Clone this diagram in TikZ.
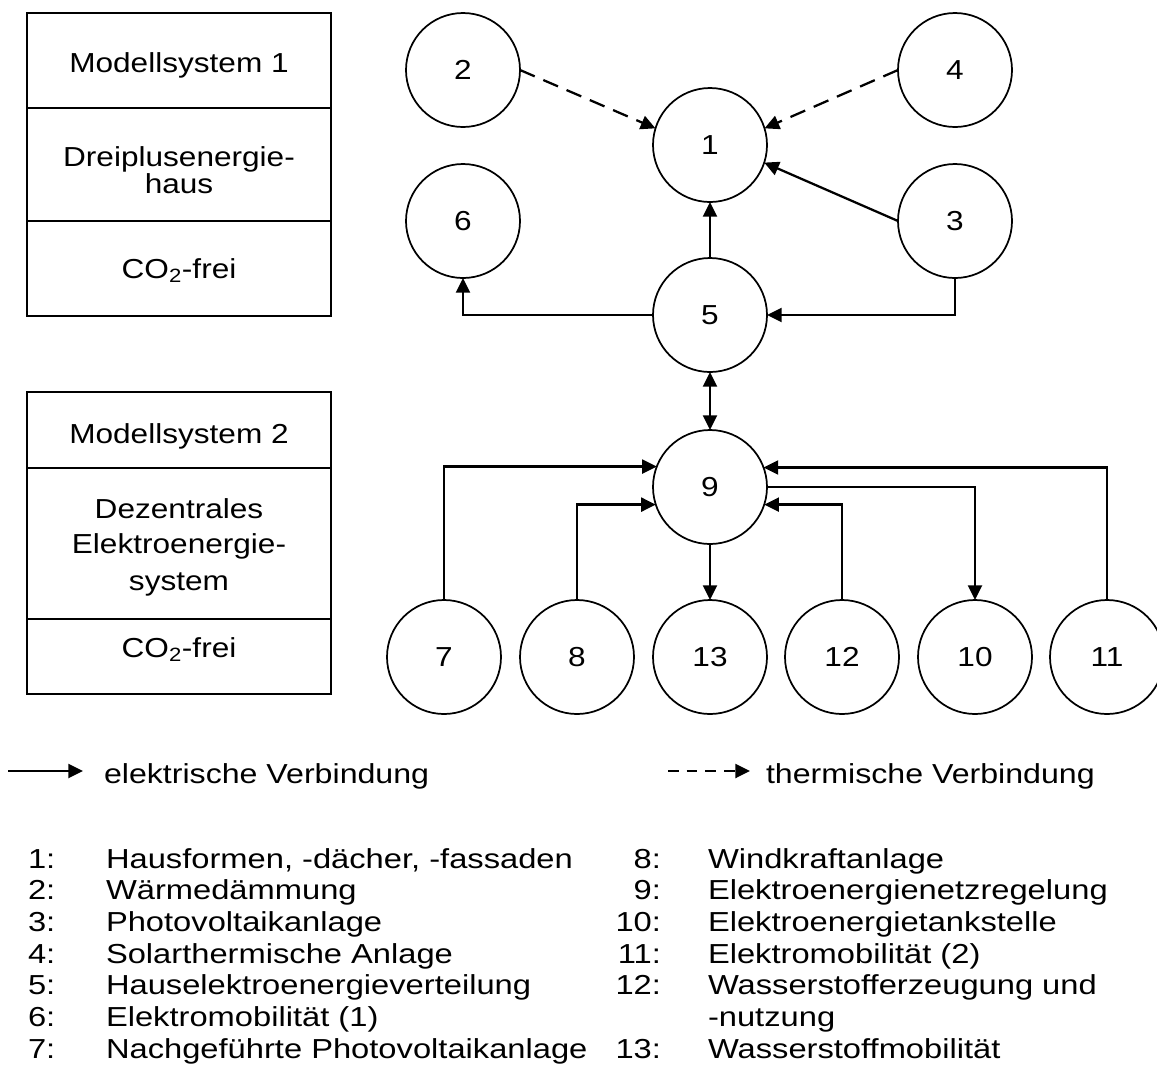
\documentclass[tikz,border=0pt]{standalone}
\usepackage{fontspec}
\setmainfont{Liberation Sans}[FakeStretch=1.15]
\newfontfamily\keyfont{Liberation Sans}[FakeStretch=1.19]
\newfontfamily\legfont{Liberation Sans}[FakeStretch=1.17]
\usetikzlibrary{arrows.meta}

\begin{document}
\begin{tikzpicture}[x=0.75pt,y=-0.75pt,
  txt/.style={font=\fontsize{20.6pt}{24pt}\selectfont, inner sep=0pt, outer sep=0pt},
  num/.style={txt, circle, draw, line width=1.3pt, minimum size=85.5pt},
  box/.style={draw, line width=1.2pt},
  tip/.style={-{Triangle[length=11pt,width=10.5pt]}},
  elec/.style={tip, line width=1.7pt},
  therm/.style={tip, line width=1.7pt, dash pattern=on 12pt off 7pt},
  lbl/.style={txt, anchor=base},
  lw/.style={txt, anchor=base west, font=\fontsize{20.6pt}{24pt}\keyfont},
  le/.style={txt, anchor=base east, font=\fontsize{20.6pt}{24pt}\keyfont},
  leg/.style={txt, anchor=base west, font=\fontsize{20.6pt}{24pt}\legfont}]

\useasboundingbox (0,0) rectangle (1157,1083);

% ---- Modellsystem 1 ----
\draw[box] (27,13) rectangle (331,316);
\draw[box] (27,108) -- (331,108);
\draw[box] (27,221) -- (331,221);
\node[lbl] (m1a) at (179,72) {Modellsystem 1};
\node[lbl] (m1b) at (179,166) {Dreiplusenergie-};
\node[lbl] (m1c) at (179,193) {haus};
\node[lbl] (m1d) at (179,278) {CO\textsubscript{2}-frei};

% ---- Modellsystem 2 ----
\draw[box] (27,392) rectangle (331,694);
\draw[box] (27,468) -- (331,468);
\draw[box] (27,619) -- (331,619);
\node[lbl] (m2a) at (179,443) {Modellsystem 2};
\node[lbl] (m2b) at (179,518) {Dezentrales};
\node[lbl] (m2c) at (179,553) {Elektroenergie-};
\node[lbl] (m2d) at (179,590) {system};
\node[lbl] (m2e) at (179,657) {CO\textsubscript{2}-frei};

% ---- components ----
\node[num] (n1)  at (710,145) {1};
\node[num] (n2)  at (463,70)  {2};
\node[num] (n3)  at (955,221) {3};
\node[num] (n4)  at (955,70)  {4};
\node[num] (n5)  at (710,315) {5};
\node[num] (n6)  at (463,221) {6};
\node[num] (n9)  at (710,487) {9};
\node[num] (n7)  at (444,657) {7};
\node[num] (n8)  at (577,657) {8};
\node[num] (n13) at (710,657) {13};
\node[num] (n12) at (842,657) {12};
\node[num] (n10) at (975,657) {10};
\node[num] (n11) at (1107,657) {11};

% ---- thermal links ----
\draw[therm] (n2.east) -- (n1.163);
\draw[therm] (n4.west) -- (n1.17);

% ---- electrical links ----
\draw[elec] (n3.west) -- (n1.-18);
\draw[elec] (n5.north) -- (n1.south);
\draw[elec] (n5.west) -| (n6.south);
\draw[elec] (n3.south) |- (n5.east);
\draw[elec, {Triangle[length=11pt,width=10.5pt]}-{Triangle[length=11pt,width=10.5pt]}] (n5.south) -- (n9.north);
\draw[elec] (n7.north) |- (n9.159.5);
\draw[elec] (n8.north) |- (n9.198.4);
\draw[elec] (n12.north) |- (n9.-18.4);
\draw[elec] (n11.north) |- (n9.20.5);
\draw[elec] (n9.south) -- (n13.north);
\draw[elec] (n9.east) -| (n10.north);

% ---- legend ----
\coordinate (la) at (8,771);
\coordinate (lb) at (83,771);
\draw[elec] (la) -- (lb);
\node[leg] (lt1) at (104,783) {elektrische Verbindung};
\coordinate (lc) at (668,771);
\coordinate (ld) at (750,771);
\draw[elec, dash pattern=on 8pt off 6pt] (lc) -- (ld);
\node[leg] (lt2) at (766,783) {thermische Verbindung};

% ---- key, left column ----
\foreach \k/\t [count=\i from 0] in {1/{Hausformen, -dächer, -fassaden},
    2/Wärmedämmung, 3/Photovoltaikanlage, 4/Solarthermische Anlage,
    5/Hauselektroenergieverteilung, 6/Elektromobilität (1),
    7/Nachgeführte Photovoltaikanlage}{
  \node[lw] (ka\k) at (28,868+31.7*\i) {\k:};
  \node[lw] (kb\k) at (106,868+31.7*\i) {\t};
}

% ---- key, right column ----
\foreach \k/\t/\i in {8/Windkraftanlage/0, 9/Elektroenergienetzregelung/1,
    10/Elektroenergietankstelle/2, 11/Elektromobilität (2)/3,
    12/Wasserstofferzeugung und/4, 13/Wasserstoffmobilität/6}{
  \node[le] (ka\k) at (661,868+31.7*\i) {\k:};
  \node[lw] (kb\k) at (708,868+31.7*\i) {\t};
}
\node[lw] (kb12b) at (708,868+31.7*5) {-nutzung};

\end{tikzpicture}
\end{document}
